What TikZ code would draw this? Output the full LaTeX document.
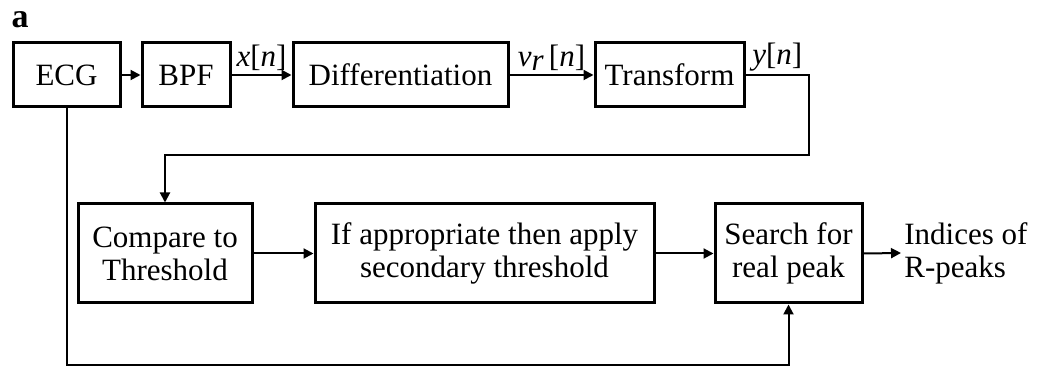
\documentclass[tikz,border=0pt]{standalone}
\usepackage{fontspec}
\setmainfont{Liberation Serif}
\usetikzlibrary{arrows.meta, positioning}

\begin{document}
\begin{tikzpicture}[
			x=0.5pt, y=-0.5pt,
			block/.style={rectangle, draw, line width=1.5pt, inner sep=0pt, minimum height=32pt, align=center, font=\fontsize{15.5}{16.5}\selectfont},
			tallblock/.style={block, minimum height=49.5pt},
			signal/.style={font=\fontsize{15.5}{16.5}\selectfont, inner sep=1.5pt},
			arrow/.style={-{Triangle[length=5pt, width=5pt]}, line width=1pt}
		]
		\useasboundingbox (0,0) rectangle (1042,367);
		
		% Figure tag
		\node[font=\fontsize{17}{18}\selectfont\bfseries, inner sep=0pt] (tag) at (20,20) {a};
		
		% Upper chain
		\node[block, minimum width=53.5pt] (ecg) at (66.5,75) {ECG};
		\node[block, minimum width=44pt] (bpf) at (186,75) {BPF};
		\node[block, minimum width=107.5pt] (diff) at (400.5,75) {Differentiation};
		\node[block, minimum width=74.5pt] (trans) at (669.5,75) {Transform};
		
		% Lower chain
		\node[tallblock, minimum width=87pt] (cmp) at (165,253.5) {Compare to\\Threshold};
		\node[tallblock, minimum width=169.5pt] (second) at (484.5,253.5) {If appropriate then apply\\secondary threshold};
		\node[tallblock, minimum width=73.5pt] (search) at (788.5,253.5) {Search for\\real peak};
		\node[signal, anchor=west, align=left] (out) at (901,253) {Indices of\\R-peaks};
		
		% Routing points
		\coordinate (turn) at (809,155);
		\coordinate (bottomline) at (66.5,365);
		
		% Signal flow
		\draw[arrow] (ecg.east) -- (bpf.west);
		\draw[arrow] (bpf.east) -- node[signal, above] {\textit{x}[\textit{n}]} (diff.west);
		\draw[arrow] (diff.east) -- node[signal, above] {\textit{v}\raisebox{-0.35ex}{\textit{r}}\,[\textit{n}]} (trans.west);
		\draw[arrow] (trans.east) -- node[signal, above] {\textit{y}[\textit{n}]} (trans.east -| turn) -- (turn) -| (cmp.north);
		\draw[arrow] (cmp.east) -- (second.west);
		\draw[arrow] (second.east) -- (search.west);
		\draw[arrow] (search.east) -- (out.west);
		\draw[arrow] (ecg.south) -- (bottomline) -| (search.south);
\end{tikzpicture}
\end{document}
